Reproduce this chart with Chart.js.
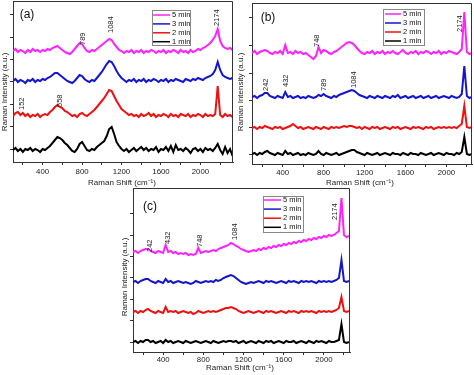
<!DOCTYPE html>
<html><head><meta charset="utf-8">
<script src="https://cdn.jsdelivr.net/npm/chart.js@4.4.0/dist/chart.umd.min.js"></script>
<style>
html,body{margin:0;padding:0;background:#fff;}
#wrap{position:relative;width:474px;height:375px;overflow:hidden;}
canvas{position:absolute;left:0;top:0;}
</style></head><body>
<div id="wrap">
<canvas id="ca" width="474" height="375"></canvas>
<canvas id="cb" width="474" height="375"></canvas>
<canvas id="cc" width="474" height="375"></canvas>
</div>
<script>
// ---------- data ----------
const seriesLabels = ['1 min','2 min','3 min','5 min'];
const seriesColors = ['#000000','#ee1111','#1515cc','#ff22ff'];

const shiftA = [100,125,150,175,200,225,250,275,300,325,350,375,400,425,450,475,500,525,550,575,600,625,650,675,700,725,750,775,800,825,850,875,900,925,950,975,1000,1025,1050,1075,1100,1125,1150,1175,1200,1225,1250,1275,1300,1325,1350,1375,1400,1425,1450,1475,1500,1525,1550,1575,1600,1625,1650,1675,1700,1725,1750,1775,1800,1825,1850,1875,1900,1925,1950,1975,2000,2025,2050,2075,2100,2125,2150,2175,2200,2225,2250,2275,2300,2325];
const shiftBC = [100,125,150,175,200,225,250,275,300,325,350,375,400,425,450,475,500,525,550,575,600,625,650,675,700,725,750,775,800,825,850,875,900,925,950,975,1000,1025,1050,1075,1100,1125,1150,1175,1200,1225,1250,1275,1300,1325,1350,1375,1400,1425,1450,1475,1500,1525,1550,1575,1600,1625,1650,1675,1700,1725,1750,1775,1800,1825,1850,1875,1900,1925,1950,1975,2000,2025,2050,2075,2100,2125,2150,2175,2200,2225,2250];
const xTickValues = [200,400,600,800,1000,1200,1400,1600,1800,2000,2200];

// panel (a)
const a1min = [12,14,11,13,10,13,12,14,11,13, 12,10,13,12,14,16,19,22,25,24, 22,19,17,14,11,10,13,18,20,16, 12,11,13,12,15,17,19,21,26,33, 35,28,20,16,13,11,13,10,12,14, 11,13,15,12,14,11,13,12,15,10, 13,12,15,11,16,10,17,12,13,11, 14,12,9,13,14,11,13,10,14,12, 13,11,14,18,12,8,15,9,13,6];
const a2min = [46,49,50,47,49,46,48,45,47,46, 48,45,47,48,47,50,52,55,57,55, 54,51,50,48,46,47,45,48,49,47, 46,48,50,52,55,58,61,64,68,72, 71,66,61,57,53,51,49,47,48,46, 47,45,48,46,47,49,46,48,45,47, 46,48,47,45,48,46,47,45,48,47, 46,48,45,47,46,48,47,45,48,46, 47,46,48,76,47,45,48,46,47,45];
const a3min = [81,83,80,82,81,79,82,81,83,80, 82,81,83,82,84,85,87,89,89,87, 85,83,81,80,79,81,84,87,86,83, 81,80,82,81,84,87,90,94,98,101, 100,96,91,87,84,82,80,82,81,83, 80,82,81,83,80,82,81,83,82,80, 82,81,83,80,82,81,83,82,81,80, 83,82,81,83,82,84,83,82,84,85, 86,88,92,100,92,87,85,84,83,84];
const a5min = [111,113,110,112,111,109,112,110,113,111, 112,110,112,111,113,112,114,115,116,114, 112,110,109,108,110,113,116,119,118,114, 111,110,112,111,113,115,117,119,121,123, 122,118,115,112,111,109,111,110,112,109, 111,110,112,109,111,110,112,111,109,111, 110,112,109,111,110,112,111,109,112,110, 111,109,112,110,111,113,112,114,115,117, 119,122,126,133,121,116,114,113,114,112];
const aYTicks = [13,35.4,57.8,80.2,102.6,125,147.4];
const aNoteText = ['152','558','789','1084','2174'];
const aNoteShift = [188,576,806,1090,2165];
const aNoteLevel = [52,55,117,129,136];

// panel (b)
const b1min = [10,11,9,11,10,12,13,11,10,9, 11,10,9,13,10,11,9,10,11,9, 10,9,11,10,9,10,13,10,9,11, 10,9,10,11,9,10,11,12,13,14, 14,12,11,10,9,11,10,9,10,11, 9,10,11,10,9,11,10,10,9,11, 10,9,11,10,10,9,11,10,9,10, 11,9,10,11,10,9,11,10,10,9, 11,10,12,27,10,9,10];
const b2min = [36,37,35,37,36,38,37,36,35,37, 36,37,35,36,37,38,40,38,36,37, 35,36,37,36,35,37,36,35,37,36, 35,37,36,37,36,37,38,37,38,38, 37,36,37,35,37,36,35,37,36,37, 35,36,37,36,35,37,36,37,35,36, 37,36,35,37,36,37,36,35,37,36, 37,35,36,37,36,37,36,37,36,37, 36,38,40,58,37,36,37];
const b3min = [67,68,66,68,69,71,71,68,67,66, 68,67,66,72,67,68,66,67,68,66, 67,66,68,67,66,67,69,68,70,68, 67,66,68,67,69,70,71,72,73,74, 73,71,69,68,67,66,68,67,66,68, 67,66,68,67,66,68,67,69,66,67, 68,66,67,68,66,67,68,66,67,68, 66,67,68,66,67,68,67,66,68,67, 66,67,70,98,68,66,67];
const b5min = [111,113,110,112,113,114,113,111,110,112, 111,113,110,119,111,112,110,113,111,112, 110,111,109,107,105,108,117,111,114,113, 111,110,112,113,115,117,119,121,122,121, 119,116,113,111,110,112,111,113,110,112, 111,113,110,112,111,113,111,110,112,114, 111,110,112,111,113,110,112,111,113,112, 110,112,111,113,110,112,111,113,112,111, 110,112,115,152,112,110,111];
const bYTicks = [10,37,64,91,118,146];
const bNoteText = ['242','432','748','789','1084','2174'];
const bNoteShift = [240,435,738,804,1097,2130];
const bNoteLevel = [73,77,117,73,76,132];

// panel (c)
const c1min = [10,11,9,11,10,12,12,10,11,9, 10,11,9,12,10,11,9,10,11,10, 9,11,10,9,10,11,10,9,10,11, 10,9,11,10,9,10,11,10,11,11, 10,11,9,10,11,9,10,11,10,9, 11,10,9,11,10,11,9,10,11,10, 9,11,10,10,11,9,10,11,10,9, 11,10,9,11,10,11,10,9,11,10, 10,11,12,28,10,9,10];
const c2min = [40,41,39,41,40,42,43,41,40,39, 41,40,39,45,40,41,40,41,39,40, 41,40,39,40,38,39,41,40,39,40, 41,40,41,40,41,42,43,44,44,45, 44,43,41,40,39,40,41,40,39,40, 41,40,39,41,40,41,40,39,40,41, 40,39,41,40,41,40,39,41,40,41, 40,41,40,39,41,40,41,40,41,40, 41,42,44,55,41,40,41];
const c3min = [70,71,69,71,72,73,73,71,70,69, 71,70,69,73,70,71,69,70,71,70, 69,70,69,68,69,71,70,69,70,71, 70,71,70,72,71,72,74,75,76,77, 76,74,72,70,69,68,69,70,69,70, 71,70,69,71,70,71,70,69,70,71, 70,69,71,70,71,70,69,71,70,71, 70,71,70,69,71,70,71,70,71,70, 71,72,74,92,71,70,71];
const c5min = [100,101,99,101,102,103,103,101,100,99, 101,100,99,107,100,101,99,100,98,99, 98,99,97,98,97,98,104,99,100,101, 100,101,102,101,103,104,105,106,107,109, 108,106,105,103,102,101,100,101,102,101, 103,102,104,103,105,104,106,105,107,106, 108,107,109,108,110,109,111,110,112,111, 113,112,114,113,115,114,116,115,117,116, 117,119,121,154,117,115,116];
const cYTicks = [10,32,53,75,96,117,139];
const cNoteText = ['242','432','748','1084','2174'];
const cNoteShift = [266,448,764,1112,2114];
const cNoteLevel = [100,108,105,112,132];

// ---------- drawing ----------
const FONT = '"Liberation Sans", Arial, Helvetica, sans-serif';

const decor = {
  id: 'decor',
  afterDraw(chart, args, o) {
    const ctx = chart.ctx, ca = chart.chartArea;
    const xs = chart.scales.x, ys = chart.scales.y;
    ctx.save();
    ctx.strokeStyle = '#333'; ctx.lineWidth = 1;
    ctx.beginPath();
    ctx.moveTo(Math.round(ca.left) + 0.5, Math.round(ca.top) + 0.5);
    ctx.lineTo(Math.round(ca.right) - 0.5, Math.round(ca.top) + 0.5);
    ctx.lineTo(Math.round(ca.right) - 0.5, Math.round(ca.bottom));
    ctx.stroke();
    ctx.fillStyle = '#111';
    ctx.font = '12px ' + FONT;
    ctx.textAlign = 'center'; ctx.textBaseline = 'middle';
    ctx.fillText(o.tag, o.tagX, o.tagY);
    ctx.font = '8px ' + FONT;
    ctx.fillStyle = '#222';
    ctx.fillText('Raman Shift (cm\u207B\u00B9)', o.xtX, o.xtY);
    ctx.save();
    ctx.translate(o.ytX, o.ytY); ctx.rotate(-Math.PI / 2);
    ctx.fillText('Raman Intensity (a.u.)', 0, 0);
    ctx.restore();
    ctx.font = '7.5px ' + FONT;
    ctx.textAlign = 'left';
    o.notes.text.forEach((t, i) => {
      const px = xs.getPixelForValue(o.notes.shift[i]);
      const py = ys.getPixelForValue(o.notes.level[i]);
      ctx.save(); ctx.translate(px, py); ctx.rotate(-Math.PI / 2);
      ctx.fillText(t, 0, 0);
      ctx.restore();
    });
    const L = o.leg;
    ctx.strokeStyle = '#888'; ctx.lineWidth = 1;
    ctx.strokeRect(L.x + 0.5, L.y + 0.5, L.w, L.h);
    ctx.font = '7.5px ' + FONT;
    ctx.textAlign = 'left'; ctx.textBaseline = 'middle';
    const ds = chart.data.datasets;
    for (let r = 0; r < ds.length; r++) {
      const d = ds[ds.length - 1 - r];
      const y = L.row0 + r * L.step;
      ctx.strokeStyle = d.borderColor; ctx.lineWidth = 1.5;
      ctx.beginPath(); ctx.moveTo(L.l0, y); ctx.lineTo(L.l1, y); ctx.stroke();
      ctx.fillStyle = '#111';
      ctx.fillText(d.label, L.tx, y);
    }
    ctx.restore();
  }
};

function makePanel(id, p) {
  const Y_W = 12;
  return new Chart(document.getElementById(id), {
    type: 'line',
    data: {
      datasets: p.series.map((ys, k) => ({
        label: seriesLabels[k],
        data: ys.map((v, i) => ({ x: p.shift[i], y: v })),
        borderColor: seriesColors[k],
        borderWidth: 2,
        pointRadius: 0,
        tension: 0,
        fill: false
      }))
    },
    options: {
      responsive: false,
      animation: false,
      events: [],
      layout: { padding: { left: p.area.left - Y_W, top: p.area.top, right: 474 - p.area.right, bottom: 375 - p.area.bottom - p.xh } },
      plugins: { legend: { display: false }, tooltip: { enabled: false }, decor: p.decor },
      scales: {
        x: {
          type: 'linear', min: p.xmin, max: p.xmax,
          afterBuildTicks: s => { s.ticks = xTickValues.map(v => ({ value: v })); },
          afterFit: s => { s.height = p.xh; },
          ticks: { callback: v => (v % 400 === 0 ? String(v) : ''), font: { size: 7.8, family: FONT }, color: '#222', padding: p.tickPad, maxRotation: 0, autoSkip: false },
          grid: { drawOnChartArea: false, tickLength: 3, color: '#333' },
          border: { display: true, color: '#333', width: 1 }
        },
        y: {
          type: 'linear', min: 0, max: p.ymax,
          afterBuildTicks: s => { s.ticks = p.yticks.map(v => ({ value: v })); },
          afterFit: s => { s.width = Y_W; },
          ticks: { display: false },
          grid: { drawOnChartArea: false, tickLength: 3, color: '#333' },
          border: { display: true, color: '#333', width: 1 }
        }
      }
    },
    plugins: [decor]
  });
}

makePanel('ca', {
  shift: shiftA, series: [a1min, a2min, a3min, a5min],
  area: { left: 13, top: 1, right: 233, bottom: 162 }, xh: 25, tickPad: 2,
  xmin: 100, xmax: 2330, ymax: 161, yticks: aYTicks,
  decor: { tag: '(a)', tagX: 27, tagY: 15, xtX: 122, xtY: 183, ytX: 5, ytY: 92,
    notes: { text: aNoteText, shift: aNoteShift, level: aNoteLevel },
    leg: { x: 152, y: 10, w: 38, h: 35, l0: 153, l1: 170, tx: 172, row0: 15, step: 8.9 } }
});
makePanel('cb', {
  shift: shiftBC, series: [b1min, b2min, b3min, b5min],
  area: { left: 252, top: 3, right: 472, bottom: 164 }, xh: 25, tickPad: 1,
  xmin: 100, xmax: 2250, ymax: 161, yticks: bYTicks,
  decor: { tag: '(b)', tagX: 268, tagY: 18, xtX: 360, xtY: 183, ytX: 241, ytY: 92,
    notes: { text: bNoteText, shift: bNoteShift, level: bNoteLevel },
    leg: { x: 383, y: 9, w: 41, h: 36, l0: 385, l1: 401, tx: 403, row0: 14, step: 9 } }
});
makePanel('cc', {
  shift: shiftBC, series: [c1min, c2min, c3min, c5min],
  area: { left: 133, top: 188, right: 350, bottom: 352 }, xh: 20, tickPad: 0,
  xmin: 100, xmax: 2260, ymax: 164, yticks: cYTicks,
  decor: { tag: '(c)', tagX: 150, tagY: 207, xtX: 240, xtY: 368, ytX: 125, ytY: 277,
    notes: { text: cNoteText, shift: cNoteShift, level: cNoteLevel },
    leg: { x: 263, y: 196, w: 40, h: 36, l0: 264, l1: 281, tx: 283, row0: 200, step: 9.1 } }
});
</script>
</body></html>
